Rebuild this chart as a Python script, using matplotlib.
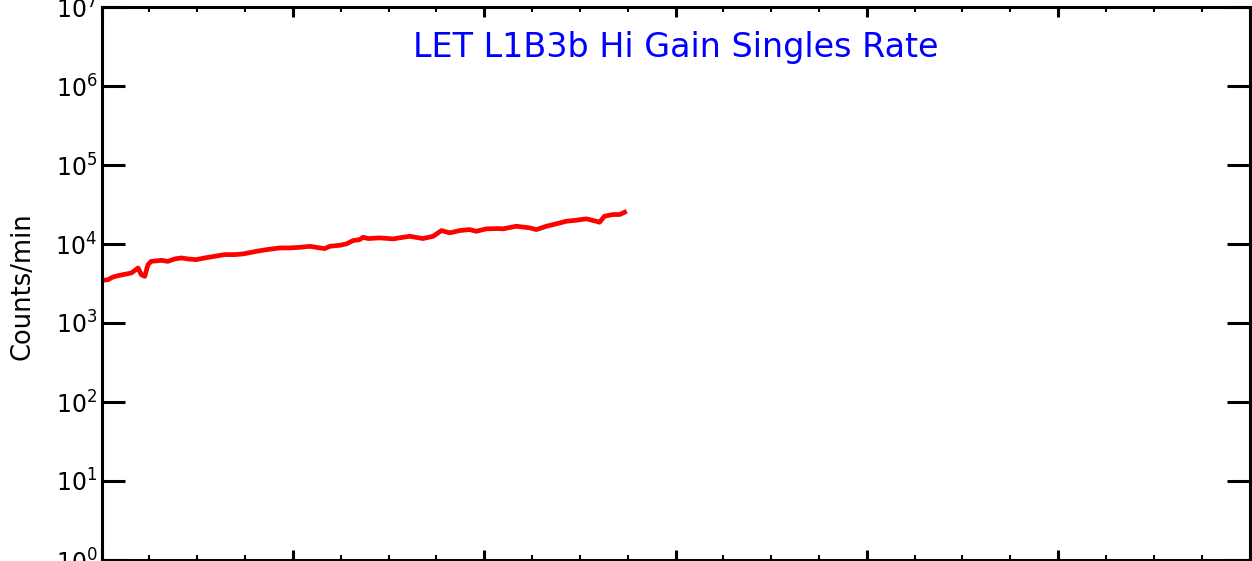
import matplotlib
matplotlib.use("Agg")
import matplotlib.pyplot as plt
from matplotlib.ticker import MultipleLocator, LogLocator, NullLocator, NullFormatter

# ---- data ----
time_units = [0.003, 0.034, 0.060, 0.086, 0.112, 0.138, 0.156, 0.191, 0.208, 0.226,
              0.243, 0.260, 0.312, 0.347, 0.382, 0.417, 0.452, 0.495, 0.539, 0.591,
              0.643, 0.696, 0.740, 0.810, 0.863, 0.932, 0.984, 1.037, 1.089, 1.141,
              1.167, 1.193, 1.245, 1.280, 1.315, 1.350, 1.367, 1.393, 1.454, 1.524,
              1.576, 1.611, 1.680, 1.733, 1.777, 1.820, 1.872, 1.924, 1.959, 2.011,
              2.072, 2.098, 2.168, 2.238, 2.273, 2.325, 2.377, 2.429, 2.481, 2.534,
              2.586, 2.603, 2.629, 2.673, 2.708, 2.734]
counts_per_min = [3460, 3530, 3820, 3970, 4090, 4210, 4300, 4970, 4090, 3890,
                  5480, 6030, 6210, 6030, 6470, 6660, 6470, 6340, 6660, 6980,
                  7340, 7340, 7490, 8080, 8490, 8920, 8920, 9080, 9350, 8920,
                  8750, 9350, 9630, 10030, 11050, 11380, 12170, 11720, 11950, 11610,
                  12170, 12520, 11720, 12520, 14790, 13830, 14790, 15230, 14490, 15550,
                  15680, 15550, 16780, 16000, 15230, 16780, 17990, 19400, 19990, 20830,
                  19400, 18850, 22480, 23610, 23610, 25250]

title_text = "LET L1B3b Hi Gain Singles Rate"
y_label = "Counts/min"
x_limits = (0, 6)
y_limits = (1e0, 1e7)

# ---- figure ----
plt.rcParams['mathtext.default'] = 'regular'
plt.rcParams['font.family'] = ['DejaVu Sans']

W, H = 1252, 561
fig = plt.figure(figsize=(W / 100, H / 100), dpi=100)
left, right = 101.5 / W, 1249.5 / W
top, bottom = 1 - 7 / H, (H - 560) / H
ax = fig.add_axes([left, bottom, right - left, top - bottom])

ax.plot(time_units, counts_per_min, color=(1, 0, 0), lw=3.4, solid_joinstyle='round')

ax.set_yscale('log')
ax.set_xlim(*x_limits)
ax.set_ylim(*y_limits)

for s in ax.spines.values():
    s.set_linewidth(2.2)
    s.set_color('black')

ax.xaxis.set_major_locator(MultipleLocator(1))
ax.xaxis.set_minor_locator(MultipleLocator(0.25))
ax.xaxis.set_major_formatter(NullFormatter())
ax.yaxis.set_major_locator(LogLocator(base=10, numticks=20))
ax.yaxis.set_minor_locator(NullLocator())

ax.tick_params(axis='x', which='major', direction='in', length=7, width=2.2,
               top=True, bottom=True, labelbottom=False)
ax.tick_params(axis='x', which='minor', direction='in', length=3.3, width=1.5,
               top=True, bottom=True)
ax.tick_params(axis='y', which='major', direction='in', length=16.5, width=2.2,
               left=True, right=True, labelsize=17, pad=3)

ax.text(0.5, 1 - 50 / 553, title_text, transform=ax.transAxes, ha='center',
        va='baseline', color=(0, 0, 1), fontsize=24)

fig.text(23 / W, 1 - 286 / H, y_label, rotation=90, ha='center', va='center',
         fontsize=18.5)

fig.savefig("out.png", dpi=100)
